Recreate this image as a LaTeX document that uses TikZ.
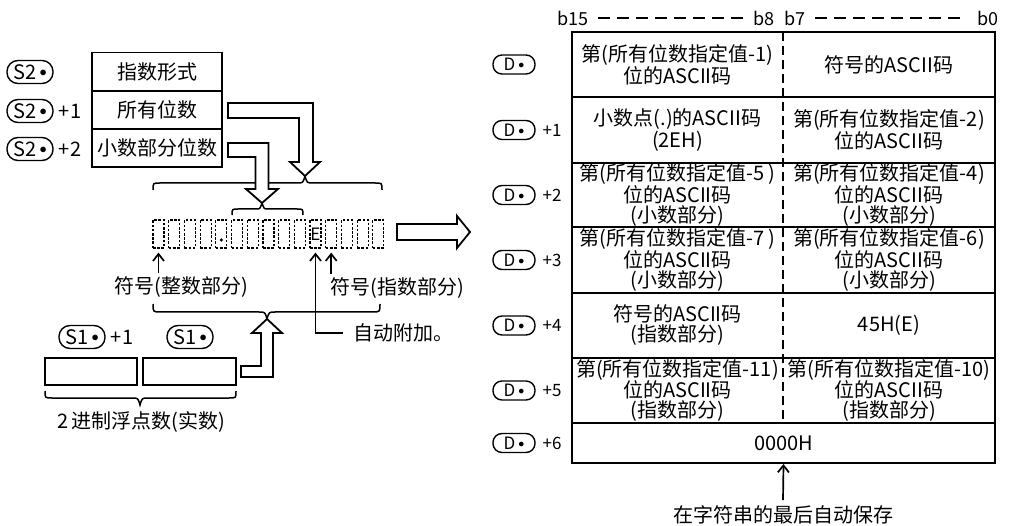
\documentclass[tikz,border=0pt]{standalone}
\usepackage{fontspec}
\setmainfont{Noto Sans CJK SC}
\usetikzlibrary{arrows.meta}
\newcommand{\pdot}{\raisebox{2.5pt}{\fontsize{15}{15}\selectfont$\bullet$}}
\newcommand{\dpdot}{\raisebox{2pt}{\fontsize{13}{13}\selectfont$\bullet$}}
\begin{document}
\begin{tikzpicture}[x=1pt,y=-1pt,
  font=\fontsize{20}{20}\selectfont,
  pill/.style={draw, rounded corners=11pt, line width=1.4pt, minimum width=46pt, minimum height=23pt, inner sep=0pt},
  dpill/.style={draw, rounded corners=9pt, line width=1.4pt, minimum width=42pt, minimum height=19pt, inner sep=0pt, font=\fontsize{17}{17}\selectfont},
  small/.style={font=\fontsize{17}{17}\selectfont},
  lcell/.style={draw, line width=1.9pt, minimum width=130pt, minimum height=38pt, inner sep=0pt},
  cell/.style={align=center, inner sep=0pt},
  digit/.style={draw, line width=1.2pt, dash pattern=on 2.6pt off 1.6pt, minimum width=11pt, minimum height=28pt, inner sep=0pt},
  hollow/.style={draw, fill=white, line width=1.8pt, line join=miter},
  brace/.style={draw, line width=1.5pt},
  arr/.style={-{Straight Barb[length=7pt,width=11pt]}, line width=1.7pt},
  tline/.style={line width=2pt}
]
\useasboundingbox (0,0) rectangle (1022,526);

% ---------- S2 block ----------
\node[lcell] (t0) at (157,71.5) {指数形式};
\node[lcell] (t1) at (157,110) {所有位数};
\node[lcell] (t2) at (157,148) {小数部分位数};
\node[pill] (s20) at (30,72) {S2\,\pdot};
\node[pill] (s21) at (30,111) {S2\,\pdot};
\node[pill] (s22) at (30,149) {S2\,\pdot};
\node (p21) at (70,111) {+1};
\node (p22) at (70,149) {+2};

% ---------- digit boxes ----------
\foreach \k in {0,...,14} \node[digit] (b\k) at ({158.5+15.7*\k},234) {};
\fill (b4.center) ++(0,6) circle (1.8pt);
\node[inner sep=0pt, font=\fontsize{17}{17}\selectfont] (eb) at (b10) {E};

% ---------- braces ----------
\draw[brace] (153,190) .. controls (153,183) .. (160,183) -- (297,183) .. controls (303,183) .. (305,176) .. controls (307,183) .. (313,183) -- (375,183) .. controls (382,183) .. (382,190);
\draw[brace] (232,215) .. controls (232,209) .. (238,209) -- (256,209) .. controls (260,209) .. (262,203) .. controls (264,209) .. (268,209) -- (297,209) .. controls (303,209) .. (303,215);
\draw[brace] (153,304) .. controls (153,312) .. (161,312) -- (259,312) .. controls (265,312) .. (267,319) .. controls (269,312) .. (275,312) -- (372,312) .. controls (380,312) .. (380,304);
\draw[brace] (45,391) .. controls (45,398) .. (52,398) -- (132,398) .. controls (138,398) .. (140,405) .. controls (142,398) .. (148,398) -- (229,398) .. controls (236,398) .. (236,391);

% ---------- hollow arrows ----------
\draw[hollow] (228,103) -- (313,103) -- (313,162) -- (320,162) -- (305,176) -- (290,162) -- (299,162) -- (299,118) -- (228,118) -- cycle;
\draw[hollow] (228,143) -- (268.5,143) -- (268.5,189) -- (278,189) -- (262,203) -- (246,189) -- (255.5,189) -- (255.5,157) -- (228,157) -- cycle;
\draw[hollow] (397,224) -- (457,224) -- (457,216) -- (470,232) -- (457,248) -- (457,240) -- (397,240) -- cycle;
\draw[hollow] (241,366) -- (261,366) -- (261,333) -- (252,333) -- (267,319) -- (282,333) -- (273,333) -- (273,377) -- (241,377) -- cycle;

% ---------- labels under digits ----------
\node (sgnI) at (181,287) {符号(整数部分)};
\node (sgnE) at (397,288) {符号(指数部分)};
\node[anchor=west] (auto) at (350,333) {自动附加。};
\draw[arr, shorten >=4pt] (b0.south |- sgnI.north) -- (b0.south);
\draw[arr, shorten >=4pt] (b11.south |- sgnE.north) -- (b11.south);
\coordinate (ac) at (b10.south |- auto.west);
\draw[arr, shorten >=4pt] ([xshift=-7pt]auto.west) -- (ac) -- (b10.south);

% ---------- S1 block ----------
\node[pill] (s1a) at (82,337) {S1\,\pdot};
\node (s1p) at (122,337) {+1};
\node[pill] (s1b) at (190,337) {S1\,\pdot};
\node[draw, line width=1.9pt, minimum width=92pt, minimum height=27pt, inner sep=0pt] (r1) at (91,371.5) {};
\node[draw, line width=1.9pt, minimum width=93pt, minimum height=27pt, inner sep=0pt] (r0) at (189.5,371.5) {};
\node (bin) at (141,422) {2\,进制浮点数(实数)};

% ---------- right table ----------
\node[draw, tline, minimum width=423pt, minimum height=431pt, inner sep=0pt] (tbl) at (783.5,247.5) {};
\foreach \y in {97,163,227,293,358,423} \draw[tline] (tbl.west |- 0,\y) -- (tbl.east |- 0,\y);
\draw[tline, dash pattern=on 9pt off 5pt] (783,32) -- (783,423);

\node[font=\fontsize{18}{18}\selectfont] (hb15) at (573,18) {b15};
\node[font=\fontsize{18}{18}\selectfont] (hb8) at (764,18) {b8};
\node[font=\fontsize{18}{18}\selectfont] (hb7) at (795,18) {b7};
\node[font=\fontsize{18}{18}\selectfont] (hb0) at (988,18) {b0};
\draw[line width=1.5pt, dash pattern=on 12pt off 7pt] ([xshift=6pt]hb15.east) -- ([xshift=-4pt]hb8.west);
\draw[line width=1.5pt, dash pattern=on 12pt off 7pt] ([xshift=6pt]hb7.east) -- ([xshift=-14pt]hb0.west);

\node[cell] (c00) at (677.5,64.5) {第(所有位数指定值-1)\\位的ASCII码};
\node[cell] (c01) at (889,64.5) {符号的ASCII码};
\node[cell] (c10) at (677.5,130) {小数点(.)的ASCII码\\(2EH)};
\node[cell] (c11) at (889,130) {第(所有位数指定值-2)\\位的ASCII码};
\node[cell] (c20) at (677.5,195) {第(所有位数指定值-5 )\\位的ASCII码\\(小数部分)};
\node[cell] (c21) at (889,195) {第(所有位数指定值-4)\\位的ASCII码\\(小数部分)};
\node[cell] (c30) at (677.5,260) {第(所有位数指定值-7 )\\位的ASCII码\\(小数部分)};
\node[cell] (c31) at (889,260) {第(所有位数指定值-6)\\位的ASCII码\\(小数部分)};
\node[cell] (c40) at (677.5,325.5) {符号的ASCII码\\(指数部分)};
\node[cell] (c41) at (889,325.5) {45H(E)};
\node[cell] (c50) at (677.5,390.5) {第(所有位数指定值-11)\\位的ASCII码\\(指数部分)};
\node[cell] (c51) at (889,390.5) {第(所有位数指定值-10)\\位的ASCII码\\(指数部分)};
\node[cell] (c60) at (783.5,443) {0000H};

\foreach \i/\y/\t in {0/64.5/,1/130/+1,2/195/+2,3/260/+3,4/325.5/+4,5/390.5/+5,6/443/+6}{
  \node[dpill] (d\i) at (514,\y) {D\,\dpdot};
  \node[small] (dp\i) at (552,\y) {\t};
}

\node (save) at (783,515) {在字符串的最后自动保存};
\draw[arr] (save.north) ++(0,-2) -- (tbl.south);
\end{tikzpicture}
\end{document}
